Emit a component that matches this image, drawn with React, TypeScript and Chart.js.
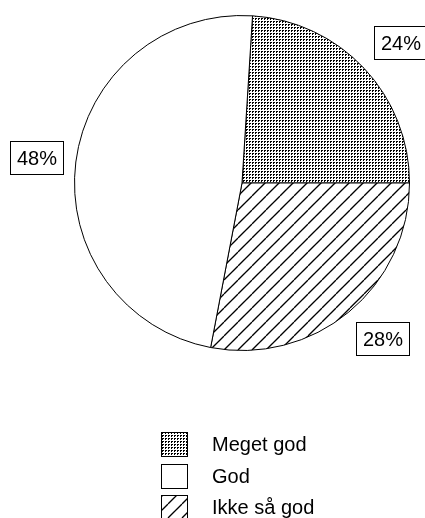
import React, { useEffect, useRef } from "react";
import { Chart, registerables } from "chart.js";

Chart.register(...registerables);

// Data (clockwise drawing order, starting just right of 12 o'clock)
const categories = ["Meget god", "Ikke så god", "God"];
const values = [24, 28, 48];
const valueLabels = ["24%", "28%", "48%"];
const legendOrder = ["Meget god", "God", "Ikke så god"];
const patternKinds = ["dots", "hatch", "plain"];

const FONT = "'Liberation Sans', Arial, sans-serif";

function makeDots(): CanvasPattern | string {
  const c = document.createElement("canvas");
  c.width = 3;
  c.height = 3;
  const x = c.getContext("2d")!;
  x.fillStyle = "#fff";
  x.fillRect(0, 0, 3, 3);
  x.fillStyle = "#000";
  x.fillRect(0, 0, 2, 1);
  x.fillRect(0, 1, 1, 1);
  return x.createPattern(c, "repeat") || "#888";
}

function makeHatch(): CanvasPattern | string {
  const s = 14;
  const c = document.createElement("canvas");
  c.width = s;
  c.height = s;
  const x = c.getContext("2d")!;
  x.fillStyle = "#fff";
  x.fillRect(0, 0, s, s);
  x.strokeStyle = "#000";
  x.lineWidth = 1.3;
  for (const o of [-s, 0, s]) {
    x.beginPath();
    x.moveTo(o, s);
    x.lineTo(o + s, 0);
    x.stroke();
  }
  return x.createPattern(c, "repeat") || "#666";
}

export default function App() {
  const ref = useRef<HTMLCanvasElement>(null);

  useEffect(() => {
    if (!ref.current) return;
    const fills: Record<string, CanvasPattern | string> = {
      dots: makeDots(),
      hatch: makeHatch(),
      plain: "#ffffff",
    };
    const bg = patternKinds.map((k) => fills[k]);

    const labelPlugin = {
      id: "boxLabels",
      afterDatasetsDraw(chart: any) {
        const ctx = chart.ctx as CanvasRenderingContext2D;
        const meta = chart.getDatasetMeta(0);
        ctx.save();
        ctx.font = `20px ${FONT}`;
        ctx.textAlign = "center";
        ctx.textBaseline = "middle";
        meta.data.forEach((arc: any, i: number) => {
          const { x, y, startAngle, endAngle, outerRadius } = arc.getProps(
            ["x", "y", "startAngle", "endAngle", "outerRadius"],
            true
          );
          const mid = (startAngle + endAngle) / 2;
          const d = outerRadius + 13;
          const ax = x + Math.cos(mid) * d;
          const ay = y + Math.sin(mid) * d;
          const text = valueLabels[i];
          const w = ctx.measureText(text).width + 13;
          const h = 33;
          const clamp = (v: number) => Math.max(-1, Math.min(1, v));
          const cx = ax + (w / 2) * clamp(Math.cos(mid) * 1.5);
          const cy = ay + (h / 2) * clamp(Math.sin(mid) * 1.5);
          const lx = Math.round(cx - w / 2) + 0.5;
          const ly = Math.round(cy - h / 2) + 0.5;
          ctx.fillStyle = "#fff";
          ctx.fillRect(lx, ly, Math.round(w), h);
          ctx.strokeStyle = "#000";
          ctx.lineWidth = 1;
          ctx.strokeRect(lx, ly, Math.round(w), h);
          ctx.fillStyle = "#000";
          ctx.fillText(text, lx + Math.round(w) / 2, ly + h / 2 + 1);
        });
        ctx.restore();
      },
    };

    const legendPlugin = {
      id: "columnLegend",
      afterDraw(chart: any) {
        const ctx = chart.ctx as CanvasRenderingContext2D;
        const area = chart.chartArea;
        const cxm = (area.left + area.right) / 2;
        const left = Math.round(cxm - 81);
        const top0 = 432;
        const step = 31.5;
        ctx.save();
        ctx.font = `20px ${FONT}`;
        ctx.textAlign = "left";
        ctx.textBaseline = "middle";
        legendOrder.forEach((name, j) => {
          const i = categories.indexOf(name);
          const top = Math.round(top0 + j * step);
          ctx.fillStyle = bg[i] as any;
          ctx.fillRect(left + 0.5, top + 0.5, 26, 24);
          ctx.strokeStyle = "#000";
          ctx.lineWidth = 1;
          ctx.strokeRect(left + 0.5, top + 0.5, 26, 24);
          ctx.fillStyle = "#000";
          ctx.fillText(name, left + 51, top + 13);
        });
        ctx.restore();
      },
    };

    const chart = new Chart(ref.current, {
      type: "pie",
      data: {
        labels: categories,
        datasets: [
          {
            data: values,
            backgroundColor: bg as any,
            borderColor: "#000",
            borderWidth: 1,
            borderAlign: "center",
          },
        ],
      },
      options: {
        responsive: false,
        animation: false,
        rotation: 3.6,
        layout: { padding: { left: 74, right: 15, top: 15, bottom: 167 } },
        plugins: {
          legend: { display: false },
          tooltip: { enabled: false },
        },
      } as any,
      plugins: [labelPlugin, legendPlugin],
    });
    return () => chart.destroy();
  }, []);

  return (
    <div style={{ position: "absolute", left: 0, top: 0, width: 425, height: 518, background: "#fff" }}>
      <canvas ref={ref} width={425} height={518} style={{ display: "block" }} />
    </div>
  );
}
